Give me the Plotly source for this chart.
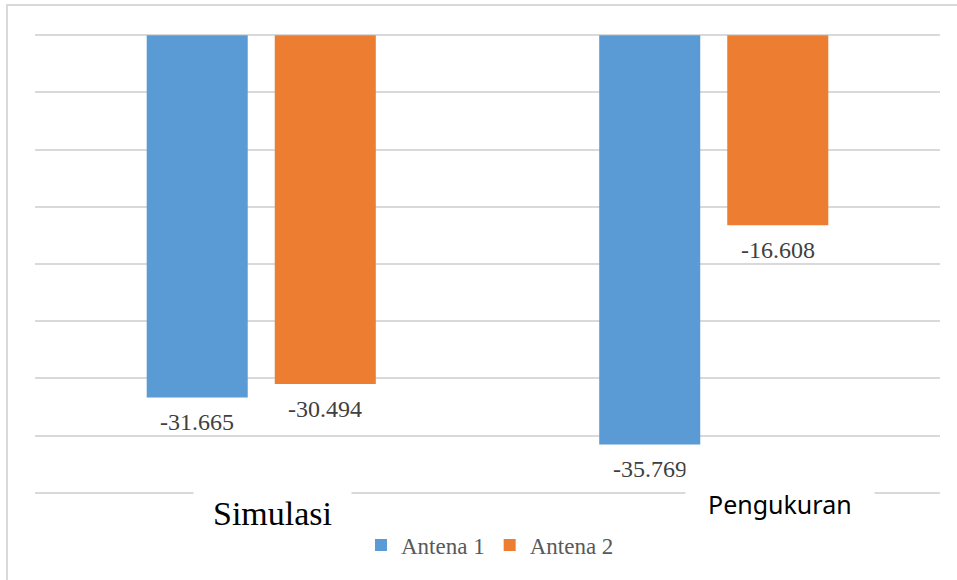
import plotly.graph_objects as go

categories = ['Simulasi', 'Pengukuran']
antena_1 = [-31.665, -35.769]
antena_2 = [-30.494, -16.608]
series_names = ['Antena 1', 'Antena 2']

# plot area in pixels: x 35..940, y 34..494
L, R, T, B = 35, 17, 34, 86
W, H = 957, 580
pw, ph = W - L - R, H - T - B
BARGAP, GROUPGAP = 0.434, 0.211
slot = pw / len(categories) * (1 - BARGAP) / 2


def px(x):
    return (x - L) / pw


def py(y):
    return (H - B - y) / ph


fig = go.Figure()

fig.add_trace(go.Bar(
    x=categories, y=antena_1, name=series_names[0],
    marker=dict(color='#5B9BD5', line=dict(width=0))
))
fig.add_trace(go.Bar(
    x=categories, y=antena_2, name=series_names[1],
    marker=dict(color='#ED7D31', line=dict(width=0))
))

# value labels under the bar ends
for vals, shift in [(antena_1, -slot / 2), (antena_2, slot / 2)]:
    for cat, v in zip(categories, vals):
        fig.add_annotation(text=f'{v:.3f}', x=cat, y=v, xref='x', yref='y',
                           showarrow=False, xanchor='center', yanchor='middle',
                           xshift=shift, yshift=-25,
                           font=dict(family='Liberation Serif', size=24, color='#404040'))

# category labels sit on the bottom gridline with a white box
fig.add_annotation(text='Simulasi', x=px(272), y=py(513), xref='paper', yref='paper',
                   showarrow=False, xanchor='center', yanchor='middle',
                   font=dict(family='Liberation Serif', size=34, color='#000000'),
                   bgcolor='white', borderpad=19)
fig.add_annotation(text='Pengukuran', x=px(780), y=py(504), xref='paper', yref='paper',
                   showarrow=False, xanchor='center', yanchor='middle',
                   font=dict(family='Noto Sans', size=25, color='#000000'),
                   bgcolor='white', borderpad=22)

# chart border (left and top visible)
fig.add_shape(type='rect', xref='paper', yref='paper',
              x0=px(7), x1=px(962), y0=py(585), y1=py(5),
              line=dict(color='#d9d9d9', width=2), layer='below')

fig.update_layout(
    width=W, height=H,
    barmode='group', bargap=BARGAP, bargroupgap=GROUPGAP,
    plot_bgcolor='white', paper_bgcolor='white',
    margin=dict(l=L, r=R, t=T, b=B),
    showlegend=True,
    legend=dict(orientation='h', x=px(490), y=py(545), xanchor='center', yanchor='middle',
                font=dict(family='Liberation Serif', size=23, color='#595959'),
                itemwidth=30, traceorder='normal'),
    xaxis=dict(showticklabels=False, showgrid=False, zeroline=False, showline=False, ticks=''),
    yaxis=dict(range=[-40.1, 0.1], dtick=5, tick0=0, showticklabels=False,
               gridcolor='#d9d9d9', gridwidth=2, zeroline=False, showline=False, ticks=''),
)

# page body has a default 8px margin; drop it so the figure fills the window
fig.write_html('out.html', config={'displayModeBar': False},
               post_script="document.body.style.margin='0';")
